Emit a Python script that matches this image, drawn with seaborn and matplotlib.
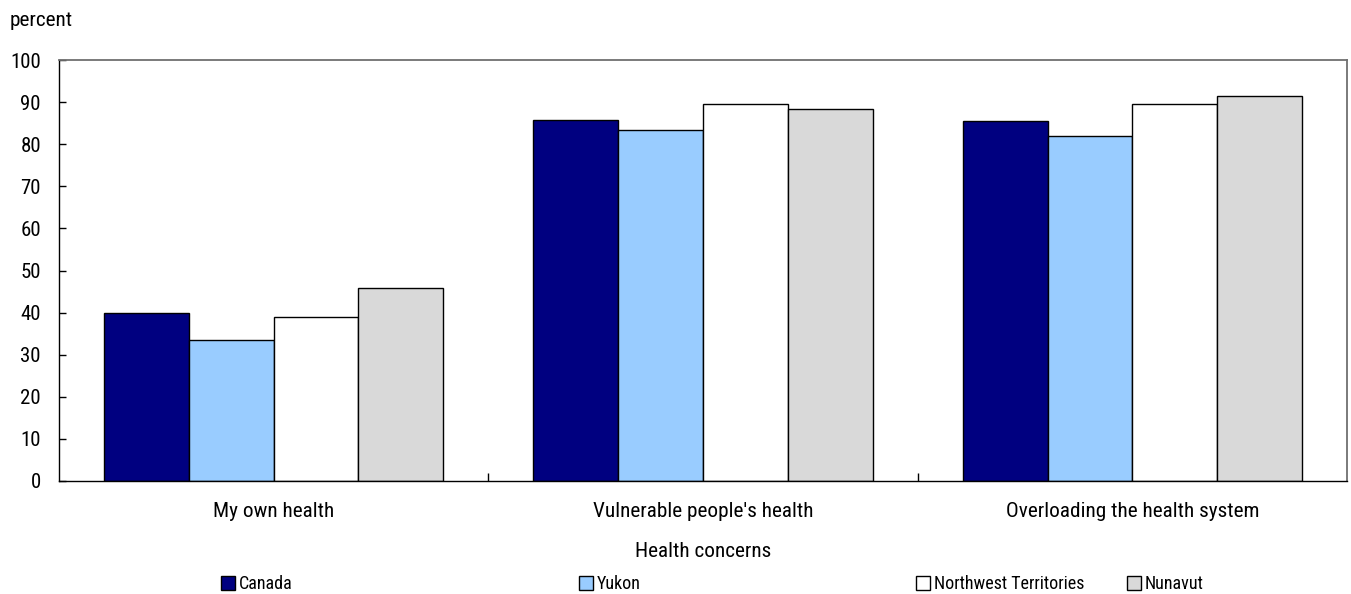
import matplotlib
matplotlib.use("Agg")
import matplotlib.pyplot as plt
import seaborn as sns
import pandas as pd
from matplotlib.patches import Patch

categories = ["My own health", "Vulnerable people's health", "Overloading the health system"]
regions = ["Canada", "Yukon", "Northwest Territories", "Nunavut"]
canada = [39.9, 85.7, 85.4]
yukon = [33.4, 83.4, 81.9]
nwt = [38.9, 89.6, 89.6]
nunavut = [45.9, 88.4, 91.5]
yticks = [0, 10, 20, 30, 40, 50, 60, 70, 80, 90, 100]
colors = ["#000080", "#99CCFF", "#FFFFFF", "#D9D9D9"]

series = {"Canada": canada, "Yukon": yukon, "Northwest Territories": nwt, "Nunavut": nunavut}
rows = []
for r in regions:
    for c, v in zip(categories, series[r]):
        rows.append({"Health concerns": c, "Region": r, "percent": v})
df = pd.DataFrame(rows)

sns.set_style("white")
plt.rcParams['font.family'] = ['Roboto Condensed', 'Archivo Narrow', 'DejaVu Sans']
plt.rcParams['text.color'] = 'black'
plt.rcParams['xtick.color'] = 'black'
plt.rcParams['ytick.color'] = 'black'
plt.rcParams['axes.labelcolor'] = 'black'

FS = 15.3
LFS = 13

fig = plt.figure(figsize=(13.51, 5.94), dpi=100)
ax = fig.add_axes([59/1351, 1-481/594, (1347-59)/1351, (481-60)/594])

sns.barplot(data=df, x="Health concerns", y="percent", hue="Region",
            hue_order=regions, order=categories, palette=colors,
            edgecolor="black", linewidth=1, width=0.79, ax=ax,
            legend=False, errorbar=None, saturation=1)

ax.set_xlim(-0.5, 2.5)
ax.set_ylim(0, 100)
ax.set_yticks(yticks)
ax.set_yticklabels([str(t) for t in yticks], fontsize=15)
ax.tick_params(axis='y', left=True, direction='in', length=5, width=1, color='black', pad=13)
ax.set_xticks(range(len(categories)))
ax.set_xticklabels(categories, fontsize=FS)
ax.tick_params(axis='x', which='major', bottom=True, length=0, pad=15)
ax.set_xticks([0.5, 1.5], minor=True)
ax.tick_params(axis='x', which='minor', bottom=True, direction='in', length=6, width=1, color='black')
ax.set_xlabel("Health concerns", fontsize=FS, labelpad=15)
ax.set_ylabel("")

for s in ['left', 'bottom']:
    ax.spines[s].set_color('black')
    ax.spines[s].set_linewidth(1)
for s in ['top', 'right']:
    ax.spines[s].set_color('#707070')
    ax.spines[s].set_linewidth(1.3)

fig.text(10/1351, 1-21/594, "percent", fontsize=FS, va='center', ha='left')

leg_x = [221, 579, 916, 1127]
for r, col, x in zip(regions, colors, leg_x):
    h = Patch(facecolor=col, edgecolor='black', linewidth=1)
    leg = fig.legend(handles=[h], labels=[r], loc='center left',
                     bbox_to_anchor=(x/1351, 1-584/594), frameon=False,
                     fontsize=LFS, handlelength=0.8, handleheight=0.8,
                     handletextpad=0.2, borderpad=0, borderaxespad=0)

fig.savefig("out.png", dpi=100)
